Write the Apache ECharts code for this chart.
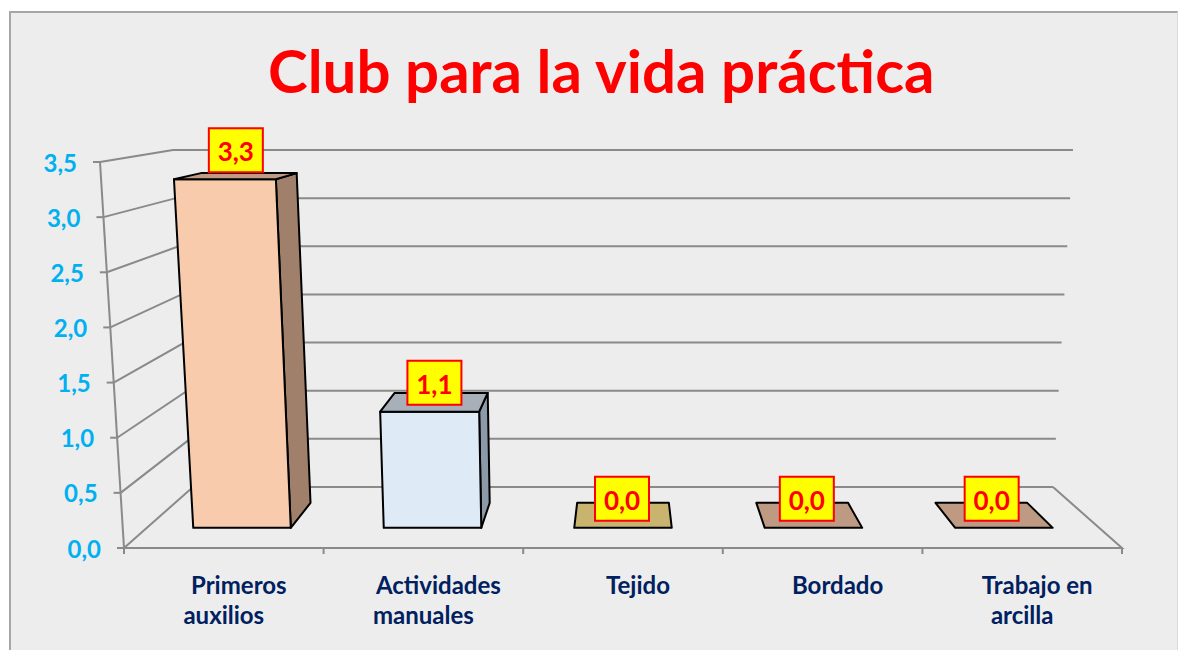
<!DOCTYPE html>
<html><head><meta charset="utf-8">
<script src="https://cdn.jsdelivr.net/npm/echarts@6/dist/echarts.min.js"></script>
<style>
html,body{margin:0;padding:0;background:#fff;width:1178px;height:650px;overflow:hidden}
#frame{position:absolute;left:9px;top:11px;width:1166px;height:639px;background:#EDEDED;border-left:2px solid #A6A6A6;border-top:2px solid #A6A6A6;border-right:1px solid #DADADA}
#chart{position:absolute;left:0;top:0;width:1178px;height:650px}
</style></head><body>
<div id="frame"></div><div id="chart"></div>
<script>
// ---- data ----
const categories = ['Primeros\nauxilios', 'Actividades\nmanuales', 'Tejido', 'Bordado', 'Trabajo en\narcilla'];
const values = [3.3, 1.1, 0.0, 0.0, 0.0];
const yTicks = [0, 0.5, 1, 1.5, 2, 2.5, 3, 3.5];
const yTickLabels = ['0,0', '0,5', '1,0', '1,5', '2,0', '2,5', '3,0', '3,5'];

// ---- style ----
const frontColors = ['#F8CBAD', '#DEEBF7', '#FFE699', '#F4C8A8', '#F4C8A8'];
const sideColors  = ['#A0806A', '#8C99A8', '#A8945A', '#A0806A', '#A0806A'];
const topColors   = ['#C09A82', '#A7AFB8', '#C8B46E', '#BE9A83', '#BE9A83'];
const GRID_COLOR = '#8A8A8A';
const FONT = 'Lato, "Open Sans", "Liberation Sans", sans-serif';

// perspective box (front plane = grid rect, back plane inset)
function makeProj(cs) {
  const x0 = cs.x, x1 = cs.x + cs.width, yT = cs.y, yB = cs.y + cs.height;
  const F = { bl: [x0, yB], br: [x1, yB], tl: [x0 - 24, yT], tr: [x1 + 24, yT] };
  const B = { bl: [x0 + 69, yB - 61], br: [x1 - 69, yB - 61], tl: [x0 + 49, yT - 12], tr: [x1 - 49, yT - 12] };
  function plane(Pl, u, t) {
    const bx = Pl.bl[0] + (Pl.br[0] - Pl.bl[0]) * u, by = Pl.bl[1] + (Pl.br[1] - Pl.bl[1]) * u;
    const tx = Pl.tl[0] + (Pl.tr[0] - Pl.tl[0]) * u, ty = Pl.tl[1] + (Pl.tr[1] - Pl.tl[1]) * u;
    return [bx + (tx - bx) * t, by + (ty - by) * t];
  }
  return function (u, t, z) {
    const f = plane(F, u, t), b = plane(B, u, t);
    return [f[0] + (b[0] - f[0]) * z, f[1] + (b[1] - f[1]) * z];
  };
}
function toU(cs, x) { return (x - cs.x) / cs.width; }
function toT(cs, y) { return (cs.y + cs.height - y) / cs.height; }

const chart = echarts.init(document.getElementById('chart'), null, { renderer: 'svg' });

const option = {
  backgroundColor: 'transparent',
  animation: false,
  title: {
    text: 'Club para la vida práctica',
    left: 263,
    top: 35,
    textStyle: { color: '#FF0000', fontSize: 60, fontWeight: 'bold', fontFamily: FONT }
  },
  grid: { left: 124, right: 56, top: 162, bottom: 102 },
  xAxis: { type: 'category', data: categories, show: false },
  yAxis: { type: 'value', min: 0, max: 3.5, interval: 0.5, show: false },
  series: [
    {
      // walls, gridlines and value axis
      type: 'custom',
      z: 1,
      silent: true,
      data: yTicks.map(v => [0, v]),
      encode: { x: 0, y: 1 },
      renderItem: function (params, api) {
        const cs = params.coordSys, P = makeProj(cs);
        const v = api.value(1);
        const t = toT(cs, api.coord([0, v])[1]);
        const fl = P(0, t, 0), bl = P(0, t, 1), br = P(1, t, 1);
        const ls = { stroke: GRID_COLOR, lineWidth: 2, fill: null };
        const children = [
          { type: 'polyline', shape: { points: [fl, bl, br] }, style: ls },
          { type: 'line', shape: { x1: fl[0] - 7, y1: fl[1], x2: fl[0], y2: fl[1] }, style: ls },
          {
            type: 'text',
            style: {
              text: yTickLabels[params.dataIndex], x: fl[0] - 23, y: fl[1],
              align: 'right', verticalAlign: 'middle',
              fill: '#00B0F0', font: 'bold 24px ' + FONT
            }
          }
        ];
        if (v === 0) {
          const f0 = P(0, 0, 0), f1 = P(1, 0, 0), ftop = P(0, 1, 0), b1 = P(1, 0, 1);
          children.push({ type: 'line', shape: { x1: f0[0], y1: f0[1], x2: ftop[0], y2: ftop[1] }, style: ls });
          children.push({ type: 'polyline', shape: { points: [f0, f1, b1] }, style: ls });
        }
        return { type: 'group', children: children };
      }
    },
    {
      // category axis labels and ticks
      type: 'custom',
      z: 2,
      silent: true,
      data: categories.map((c, i) => [i, 0]),
      encode: { x: 0, y: 1 },
      renderItem: function (params, api) {
        const cs = params.coordSys, P = makeProj(cs);
        const i = api.value(0);
        const c = api.coord([i, 0]);
        const band = api.size([1, 0])[0];
        const ls = { stroke: GRID_COLOR, lineWidth: 2 };
        const children = [];
        const edges = [c[0] - band / 2];
        if (i === categories.length - 1) edges.push(c[0] + band / 2);
        edges.forEach(x => {
          const p = P(toU(cs, x), 0, 0);
          children.push({ type: 'line', shape: { x1: p[0], y1: p[1], x2: p[0], y2: p[1] + 6 }, style: ls });
        });
        const lines = categories[i].split('\n');
        lines.forEach((txt, k) => {
          children.push({
            type: 'text',
            style: {
              text: txt, x: c[0] + (k === 0 ? 15 : 0), y: c[1] + 36 + k * 30,
              align: 'center', verticalAlign: 'middle',
              fill: '#002060', font: 'bold 24px ' + FONT
            }
          });
        });
        return { type: 'group', children: children };
      }
    },
    {
      // 3D-looking bars
      type: 'custom',
      z: 3,
      data: values.map((v, i) => [i, v]),
      encode: { x: 0, y: 1 },
      renderItem: function (params, api) {
        const cs = params.coordSys, P = makeProj(cs);
        const i = api.value(0), v = api.value(1);
        const base = api.coord([i, 0]), top = api.coord([i, v]);
        const band = api.size([1, 0])[0];
        const uc = toU(cs, base[0]), hw = band * 0.256 / cs.width;
        const t = toT(cs, top[1]);
        const uL = uc - hw, uR = uc + hw, zf = 0.33, zb = 0.74;
        const fbl = P(uL, 0, zf), fbr = P(uR, 0, zf), ftl = P(uL, t, zf), ftr = P(uR, t, zf);
        const bbl = P(uL, 0, zb), bbr = P(uR, 0, zb), btl = P(uL, t, zb), btr = P(uR, t, zb);
        const edge = { stroke: '#000', lineWidth: 2, lineJoin: 'round' };
        const children = [];
        if (v > 0) {
          if (bbr[0] > fbr[0] + 0.5) {
            children.push({ type: 'polygon', shape: { points: [fbr, bbr, btr, ftr] }, style: Object.assign({ fill: sideColors[i] }, edge) });
          } else if (bbl[0] < fbl[0] - 0.5) {
            children.push({ type: 'polygon', shape: { points: [fbl, bbl, btl, ftl] }, style: Object.assign({ fill: sideColors[i] }, edge) });
          }
          children.push({ type: 'polygon', shape: { points: [fbl, fbr, ftr, ftl] }, style: Object.assign({ fill: frontColors[i] }, edge) });
        }
        children.push({ type: 'polygon', shape: { points: [ftl, ftr, btr, btl] }, style: Object.assign({ fill: topColors[i] }, edge) });
        // data label box
        const lx = (ftl[0] + ftr[0] + btl[0] + btr[0]) / 4 - 1, ly = (ftl[1] + ftr[1]) / 2 - 29;
        children.push({
          type: 'rect', shape: { x: lx - 27, y: ly - 22, width: 54, height: 44 },
          style: { fill: '#FFFF00', stroke: '#FF0000', lineWidth: 2 }
        });
        children.push({
          type: 'text',
          style: {
            text: v.toFixed(1).replace('.', ','), x: lx, y: ly + 1,
            align: 'center', verticalAlign: 'middle',
            fill: '#FF0000', font: 'bold 26px ' + FONT
          }
        });
        return { type: 'group', children: children };
      }
    }
  ]
};
chart.setOption(option);
</script>
</body></html>
